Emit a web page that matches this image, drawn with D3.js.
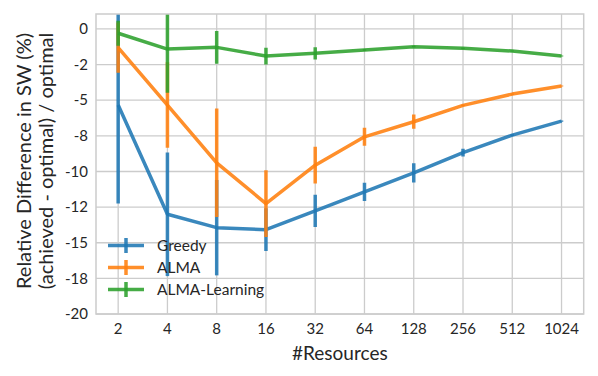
<!DOCTYPE html>
<html><head><meta charset="utf-8">
<script src="https://cdn.jsdelivr.net/npm/d3@7"></script>
<style>body{margin:0;background:#fff;} svg{display:block;}</style>
</head><body>
<svg id="c" width="598" height="376"></svg>
<script>
const resources = [2,4,8,16,32,64,128,256,512,1024];
const seriesNames = ["Greedy","ALMA","ALMA-Learning"];
const greedy     = [-5.34,-13.0,-13.94,-14.08,-12.77,-11.43,-10.10,-8.67,-7.45,-6.47];
const greedyErr  = [6.9,4.34,3.35,1.5,1.13,0.64,0.68,0.27,0.06,0.04];
const alma       = [-1.31,-5.34,-9.39,-12.25,-9.56,-7.57,-6.51,-5.36,-4.57,-4.0];
const almaErr    = [1.76,3.0,3.81,2.34,1.29,0.63,0.5,0.05,0.04,0.04];
const learning   = [-0.30,-1.41,-1.29,-1.90,-1.71,-1.48,-1.24,-1.36,-1.55,-1.90];
const learningErr= [0.88,3.07,1.15,0.59,0.43,0.05,0.05,0.04,0.04,0.04];
const yTicks = [0,-2.5,-5,-7.5,-10,-12.5,-15,-17.5,-20];
const yTickLabels = ["0","-2","-5","-8","-10","-12","-15","-18","-20"];
const colors = ["#1f77b4","#ff7f0e","#2ca02c"];

const series = [
  {name:seriesNames[0], vals:greedy, err:greedyErr, color:colors[0]},
  {name:seriesNames[1], vals:alma, err:almaErr, color:colors[1]},
  {name:seriesNames[2], vals:learning, err:learningErr, color:colors[2]}
];

const L=96, R=583.7, T=14, B=314;
const font = "Lato, 'Open Sans', sans-serif";
const txt = "#262626";
const svg = d3.select("#c");

const x = d3.scaleLinear().domain([0.55,10.45]).range([L,R]);
const xp = r => x(Math.log2(r));
const y = d3.scaleLinear().domain([-20,1.05]).range([B,T]);

svg.append("defs").append("clipPath").attr("id","clip")
  .append("rect").attr("x",L).attr("y",T).attr("width",R-L).attr("height",B-T);

// grid
const g = svg.append("g");
g.selectAll("line.yg").data(yTicks).join("line")
  .attr("x1",L).attr("x2",R).attr("y1",d=>y(d)).attr("y2",d=>y(d))
  .attr("stroke","#cccccc").attr("stroke-width",1.3);
g.selectAll("line.xg").data(resources).join("line").attr("class","xg")
  .attr("x1",d=>xp(d)).attr("x2",d=>xp(d)).attr("y1",T).attr("y2",B)
  .attr("stroke","#cccccc").attr("stroke-width",1.3);

// tick labels
svg.append("g").selectAll("text").data(yTicks).join("text")
  .attr("x",88).attr("y",d=>y(d)).attr("dy","0.35em")
  .attr("text-anchor","end").attr("font-family",font).attr("font-size",15)
  .attr("fill",txt).text((d,i)=>yTickLabels[i]);
svg.append("g").selectAll("text").data(resources).join("text")
  .attr("x",d=>xp(d)).attr("y",334).attr("text-anchor","middle")
  .attr("font-family",font).attr("font-size",15).attr("fill",txt).text(d=>d);

// axis titles
svg.append("text").attr("x",(L+R)/2).attr("y",360).attr("text-anchor","middle")
  .attr("font-family",font).attr("font-size",19).attr("fill",txt).text("#Resources");
const yl = svg.append("text").attr("transform","translate(0,161) rotate(-90)")
  .attr("text-anchor","middle").attr("font-family",font).attr("font-size",20).attr("fill",txt);
yl.append("tspan").attr("x",0).attr("y",31).text("Relative Difference in SW (%)");
yl.append("tspan").attr("x",0).attr("y",53).text("(achieved - optimal) / optimal");

// series
const plot = svg.append("g").attr("clip-path","url(#clip)");
const line = d3.line().x((d,i)=>xp(resources[i])).y(d=>y(d));
series.forEach(s=>{
  const sg = plot.append("g");
  sg.append("path").datum(s.vals).attr("d",line).attr("fill","none")
    .attr("stroke",s.color).attr("stroke-width",3.5).attr("stroke-opacity",0.88)
    .attr("stroke-linejoin","round");
  sg.selectAll("line").data(s.vals).join("line")
    .attr("x1",(d,i)=>xp(resources[i])).attr("x2",(d,i)=>xp(resources[i]))
    .attr("y1",(d,i)=>y(d+s.err[i])).attr("y2",(d,i)=>y(d-s.err[i]))
    .attr("stroke",s.color).attr("stroke-width",3.5).attr("stroke-opacity",0.88);
});

// frame
svg.append("rect").attr("x",L).attr("y",T).attr("width",R-L).attr("height",B-T)
  .attr("fill","none").attr("stroke","#cccccc").attr("stroke-width",1.5);

// legend
const lg = svg.append("g");
series.forEach((s,i)=>{
  const yy = 245.5 + i*22;
  lg.append("line").attr("x1",108).attr("x2",144).attr("y1",yy).attr("y2",yy)
    .attr("stroke",s.color).attr("stroke-width",3.5).attr("stroke-opacity",0.88);
  lg.append("line").attr("x1",126).attr("x2",126).attr("y1",yy-7.5).attr("y2",yy+7.5)
    .attr("stroke",s.color).attr("stroke-width",3.5).attr("stroke-opacity",0.88);
  lg.append("text").attr("x",157).attr("y",yy).attr("dy","0.35em")
    .attr("font-family",font).attr("font-size",15.5).attr("fill",txt).text(s.name);
});
</script>
</body></html>
